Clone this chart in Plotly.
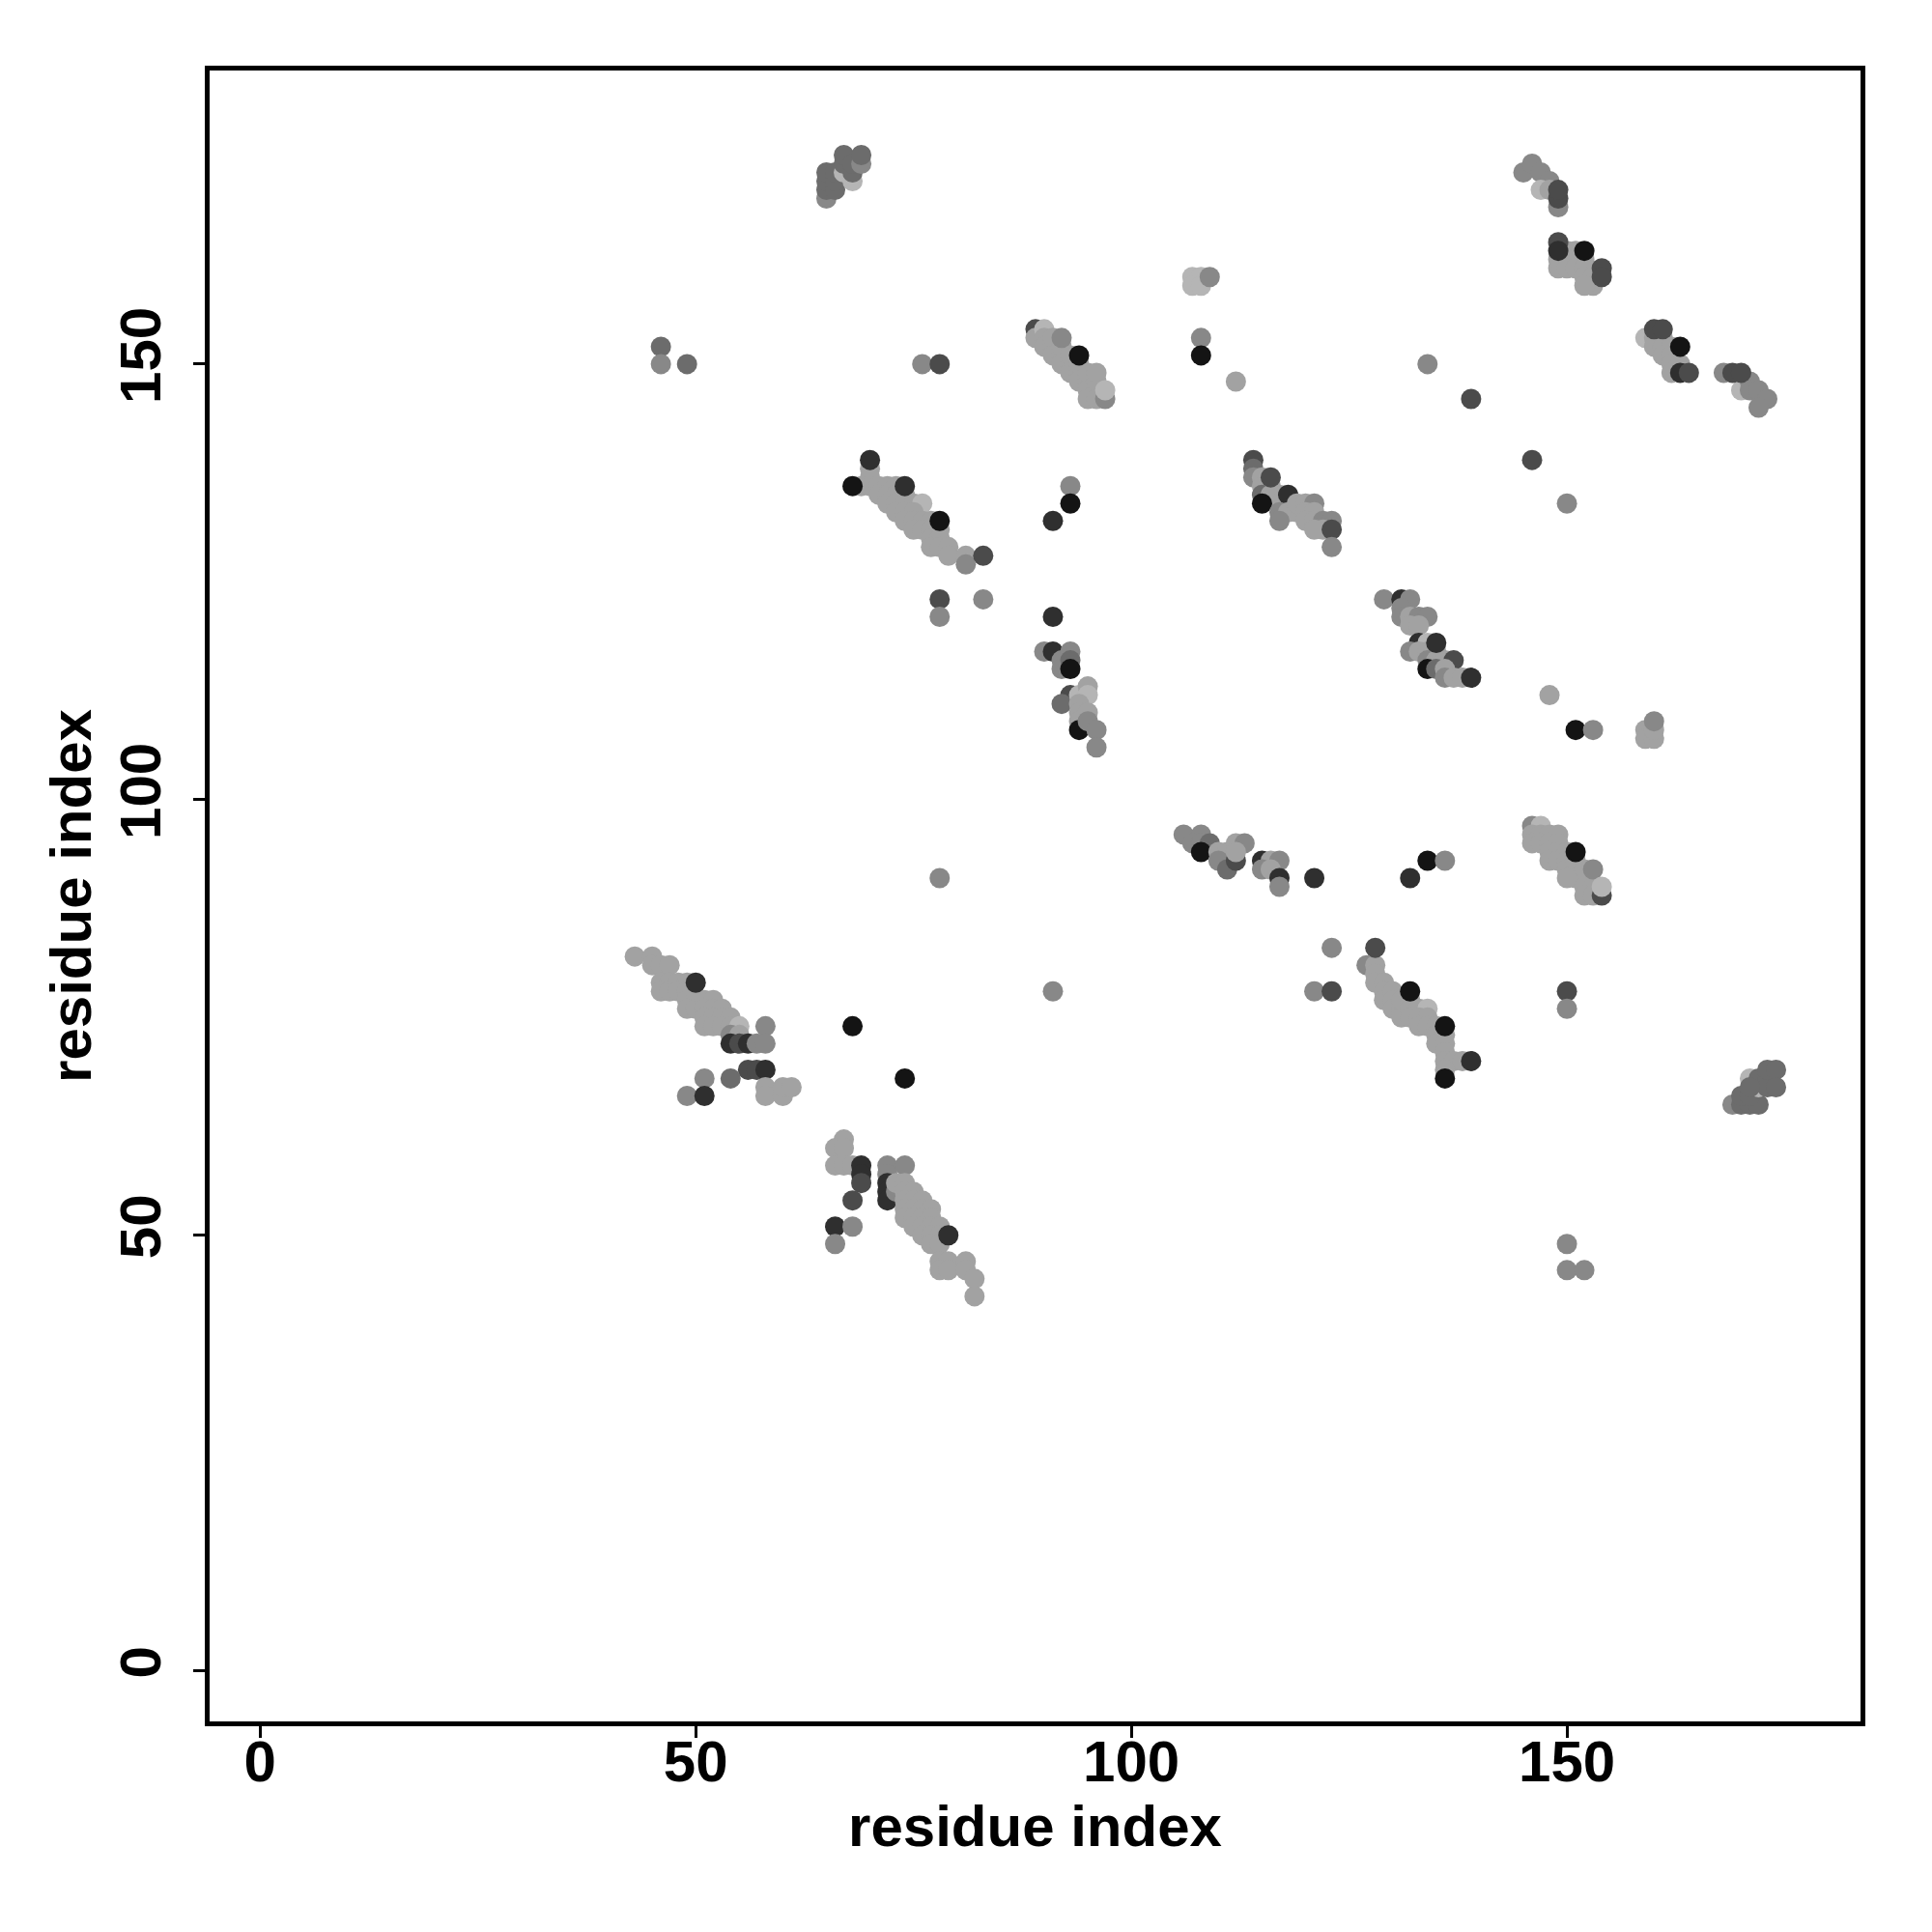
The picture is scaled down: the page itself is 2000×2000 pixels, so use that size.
import plotly.graph_objects as go

# grey levels used for the contact points (0 = darkest)
gray_levels = ["#141414", "#2f2f2f", "#4b4b4b", "#6c6c6c", "#888888", "#a2a2a2", "#b5b5b5"]

# contacts as (residue i, residue j, grey level), grouped by region
block_65_172 = [(65,169,4),(65,170,3),(65,171,3),(65,172,3),(66,170,3),(66,171,3),(66,172,3),
                (67,172,6),(67,173,3),(67,174,3),(68,171,6),(68,172,3),(68,173,3),(69,173,4),(69,174,3)]
isolated_150 = [(46,152,3),(46,150,4),(49,150,3),(76,150,4),(78,150,2)]
strand_70_135 = [(70,138,5),(70,137,5),(69,136,5),(70,136,5),(71,136,5),(72,136,5),(73,136,5),
                 (71,135,5),(72,135,5),(73,135,5),(74,135,5),(72,134,5),(73,134,5),(74,134,5),(75,134,5),
                 (76,134,6),(73,133,5),(74,133,5),(75,133,5),(74,132,5),(75,132,5),(76,132,5),(77,132,5),
                 (75,131,5),(76,131,5),(77,131,5),(78,131,5),(77,130,5),(78,130,5),(77,129,5),(78,129,5),
                 (79,129,5),(79,128,5),(81,128,5),(81,127,4),
                 (70,139,1),(68,136,0),(74,136,1),(78,132,0),(83,128,2),
                 (78,123,2),(83,123,4),(78,121,4),(78,91,4)]
strand_92_150 = [(89,154,2),(89,153,5),(90,154,6),(90,153,5),(90,152,5),(91,152,5),(91,153,5),(91,151,5),
                 (92,151,5),(92,152,5),(92,150,5),(93,150,5),(93,151,5),(93,149,5),(94,149,5),(94,150,5),
                 (94,148,5),(95,148,5),(95,149,5),(95,147,5),(96,147,5),(96,148,5),(96,149,5),(95,146,5),
                 (96,146,5),(97,146,4),(97,147,6),(92,153,4),(94,151,0),
                 (93,136,4),(93,134,0),(91,132,1),(91,121,1)]
block_108_160 = [(107,160,6),(108,160,6),(107,159,6),(108,159,6),(109,160,4),
                 (108,153,4),(108,151,0),(112,148,5)]
strand_93_112 = [(90,117,4),(91,117,1),(92,116,4),(93,117,4),(92,115,4),(93,116,3),(93,115,0),
                 (93,112,2),(92,111,3),(94,112,6),(95,113,5),(95,112,6),(94,111,5),(94,110,5),(95,110,5),
                 (94,109,5),(94,108,0),(95,109,4),(96,108,4),(96,106,4)]
strand_118_134 = [(114,139,2),(114,138,3),(114,137,4),(115,137,5),(115,136,5),(116,136,5),(115,135,3),
                  (116,135,5),(117,135,5),(117,134,5),(118,134,5),(115,134,0),(116,137,2),(118,135,1),
                  (117,133,4),(118,133,5),(119,133,5),(119,134,5),(120,134,5),(121,134,4),(120,133,5),
                  (121,133,5),(120,132,5),(121,132,5),(122,132,4),(123,132,4),(117,132,4),(122,131,5),
                  (121,131,5),(123,131,2),(123,129,4)]
strand_112_93 = [(106,96,4),(108,96,4),(107,95,4),(108,95,4),(109,95,3),(108,94,0),(110,94,5),(111,94,5),
                 (112,95,5),(113,95,4),(111,93,5),(110,93,4),(111,92,3),(112,93,2),(112,94,5),(115,93,1),
                 (116,93,5),(117,93,4),(115,92,4),(116,92,5),(117,91,1),(117,90,4),(121,91,1)]
strand_134_118 = [(129,123,4),(131,123,1),(132,123,4),(131,122,4),(131,121,4),(132,121,5),(133,121,4),
                  (134,121,4),(132,120,5),(133,120,5),(133,118,1),(134,118,6),(132,117,4),(133,117,5),
                  (134,117,5),(135,117,5),(134,116,4),(135,116,5),(136,116,5),(135,118,1),(137,116,2),
                  (134,115,0),(135,115,3),(136,115,5),(136,114,4),(137,114,5),(138,114,5),(139,114,1)]
isolated_right = [(134,150,4),(139,146,2),(146,139,2),(150,134,4),(148,112,5),(151,108,0),(153,108,4),
                  (134,93,0),(136,93,4),(132,91,1),(150,78,2),(150,76,4),(150,49,4),(150,46,4),(152,46,4),
                  (121,78,4),(123,78,2),(123,83,4),(91,78,4),(74,68,0),(68,74,0)]
block_160_108 = [(159,108,5),(159,107,5),(160,107,5),(160,108,5),(160,109,4)]
strand_150_93 = [(146,97,4),(147,97,6),(146,96,5),(147,96,5),(148,96,5),(149,96,5),(146,95,5),(147,95,5),
                 (148,95,5),(149,95,5),(148,94,5),(149,94,5),(150,94,5),(148,93,5),(149,93,5),(150,93,5),
                 (150,92,5),(151,92,5),(151,93,5),(151,91,5),(152,91,5),(152,92,5),(150,91,5),(152,90,5),
                 (153,90,5),(152,89,5),(153,89,5),(151,94,0),(153,92,4),(154,89,2),(154,90,6)]
strand_147_170 = [(145,172,4),(146,173,4),(147,172,4),(148,171,4),(147,170,6),(148,170,5),(149,168,4),
                  (149,169,2),(149,170,2)]
strand_151_162 = [(149,161,5),(150,163,5),(151,163,5),(149,162,5),(150,162,5),(151,162,5),(152,162,5),
                  (150,161,5),(151,161,5),(152,161,5),(152,160,5),(153,160,5),(153,159,5),(152,159,5),
                  (149,164,2),(149,163,1),(152,163,0),(154,161,2),(154,160,2)]
strand_161_151 = [(159,153,6),(160,153,5),(161,153,5),(160,152,5),(161,152,5),(162,152,5),(161,151,5),
                  (162,151,5),(162,150,5),(163,150,5),(162,149,5),(160,154,2),(161,154,2),(163,152,0),
                  (163,149,1),(164,149,2)]
strand_170_147 = [(168,149,4),(170,147,6),(171,148,4),(171,147,4),(172,147,4),(173,146,4),(172,145,4),
                  (169,149,2),(170,149,2)]
strand_52_75 = [(43,82,5),(45,82,5),(45,81,5),(46,81,5),(47,81,5),(46,79,5),(47,79,5),(46,78,5),(47,78,5),
                (48,79,5),(49,79,5),(48,78,5),(49,78,5),(49,77,5),(50,77,5),(49,76,5),(50,76,5),(51,77,5),
                (52,77,5),(51,76,5),(52,76,5),(53,76,5),(51,75,5),(52,75,5),(53,75,5),(54,75,5),(51,74,5),
                (52,74,5),(53,74,5),(54,74,5),(55,74,6),(54,73,4),(55,73,5),(58,74,4),(50,79,1),
                (54,72,1),(55,72,2),(56,72,1),(57,72,4),(58,72,4),(56,69,2),(57,69,2),(58,69,1),
                (58,67,5),(58,66,5),(60,66,5),(60,67,5),(61,67,5),(51,68,4),(54,68,3),(49,66,4),(51,66,1)]
strand_75_52 = [(67,61,5),(66,60,5),(67,60,5),(66,58,5),(67,58,5),(68,58,5),(69,58,1),(69,57,1),(69,56,2),
                (72,58,4),(74,58,4),(72,57,4),(72,56,1),(72,55,1),(72,54,1),(73,55,4),(68,54,2),(66,51,1),
                (68,51,4),(66,49,4),
                (73,56,5),(74,56,5),(74,55,5),(75,55,5),(74,54,5),(75,54,5),(76,54,5),(74,53,5),(75,53,5),
                (76,53,5),(77,53,5),(74,52,5),(75,52,5),(76,52,5),(77,52,5),(75,51,5),(76,51,5),(77,51,5),
                (78,51,5),(76,50,5),(77,50,5),(78,50,5),(77,49,5),(78,49,5),(78,47,5),(79,47,5),(78,46,5),
                (79,46,5),(81,47,5),(81,46,5),(82,45,5),(82,43,5),(79,50,1)]
strand_133_75 = [(127,81,4),(128,81,5),(128,80,5),(128,79,5),(129,79,5),(129,78,5),(129,77,5),(130,78,5),
                 (130,77,5),(130,76,5),(131,76,5),(131,75,5),(131,77,5),(132,77,5),(132,76,5),(133,76,5),
                 (134,76,6),(132,75,5),(133,75,5),(134,75,5),(133,74,5),(134,74,5),(135,74,5),(135,73,5),
                 (136,73,5),(135,72,5),(136,72,5),(136,71,5),(136,70,5),(137,70,5),(138,70,5),(136,69,5),
                 (128,83,2),(132,78,0),(136,74,0),(139,70,1),(136,68,0)]
block_171_67 = [(169,65,4),(170,65,3),(171,65,3),(172,65,3),(170,66,3),(171,66,3),(171,68,6),(172,67,6),
                (172,68,3),(173,68,3),(173,67,3),(173,69,3),(174,69,3),(174,67,3),(171,67,3)]

x_ticks = [0, 50, 100, 150]
axis_title = "residue index"

groups = [block_65_172, isolated_150, strand_70_135, strand_92_150, block_108_160, strand_93_112,
          strand_118_134, strand_112_93, strand_134_118, isolated_right, block_160_108, strand_150_93,
          strand_147_170, strand_151_162, strand_161_151, strand_170_147, strand_52_75, strand_75_52,
          strand_133_75, block_171_67]

xs, ys, cs = [], [], []
for g in groups:
    for i, j, s in g:
        xs.append(i)
        ys.append(j)
        cs.append(gray_levels[s])

fig = go.Figure(go.Scatter(
    x=xs, y=ys, mode="markers",
    marker=dict(size=21, color=cs, line=dict(width=0)),
    hoverinfo="x+y",
))

font_main = dict(family="Liberation Sans, Arial, sans-serif", size=60, color="black", weight="bold")

axis_common = dict(
    range=[-5.8, 183.7],
    tickvals=x_ticks,
    ticks="outside", ticklen=12, tickwidth=3, tickcolor="black",
    showline=True, linewidth=5, linecolor="black", mirror=True,
    showgrid=False, zeroline=False,
    tickfont=font_main,
)

fig.update_layout(
    width=2000, height=2000,
    margin=dict(l=209, r=82, t=65, b=226),
    paper_bgcolor="white", plot_bgcolor="white",
    showlegend=False,
    xaxis=dict(**axis_common, ticklabelstandoff=-27,
               title=dict(text=axis_title, font=font_main, standoff=10)),
    yaxis=dict(**axis_common, tickangle=-90, ticklabelstandoff=10,
               title=dict(text=axis_title, font=font_main, standoff=0)),
)

fig.write_html("out.html")
